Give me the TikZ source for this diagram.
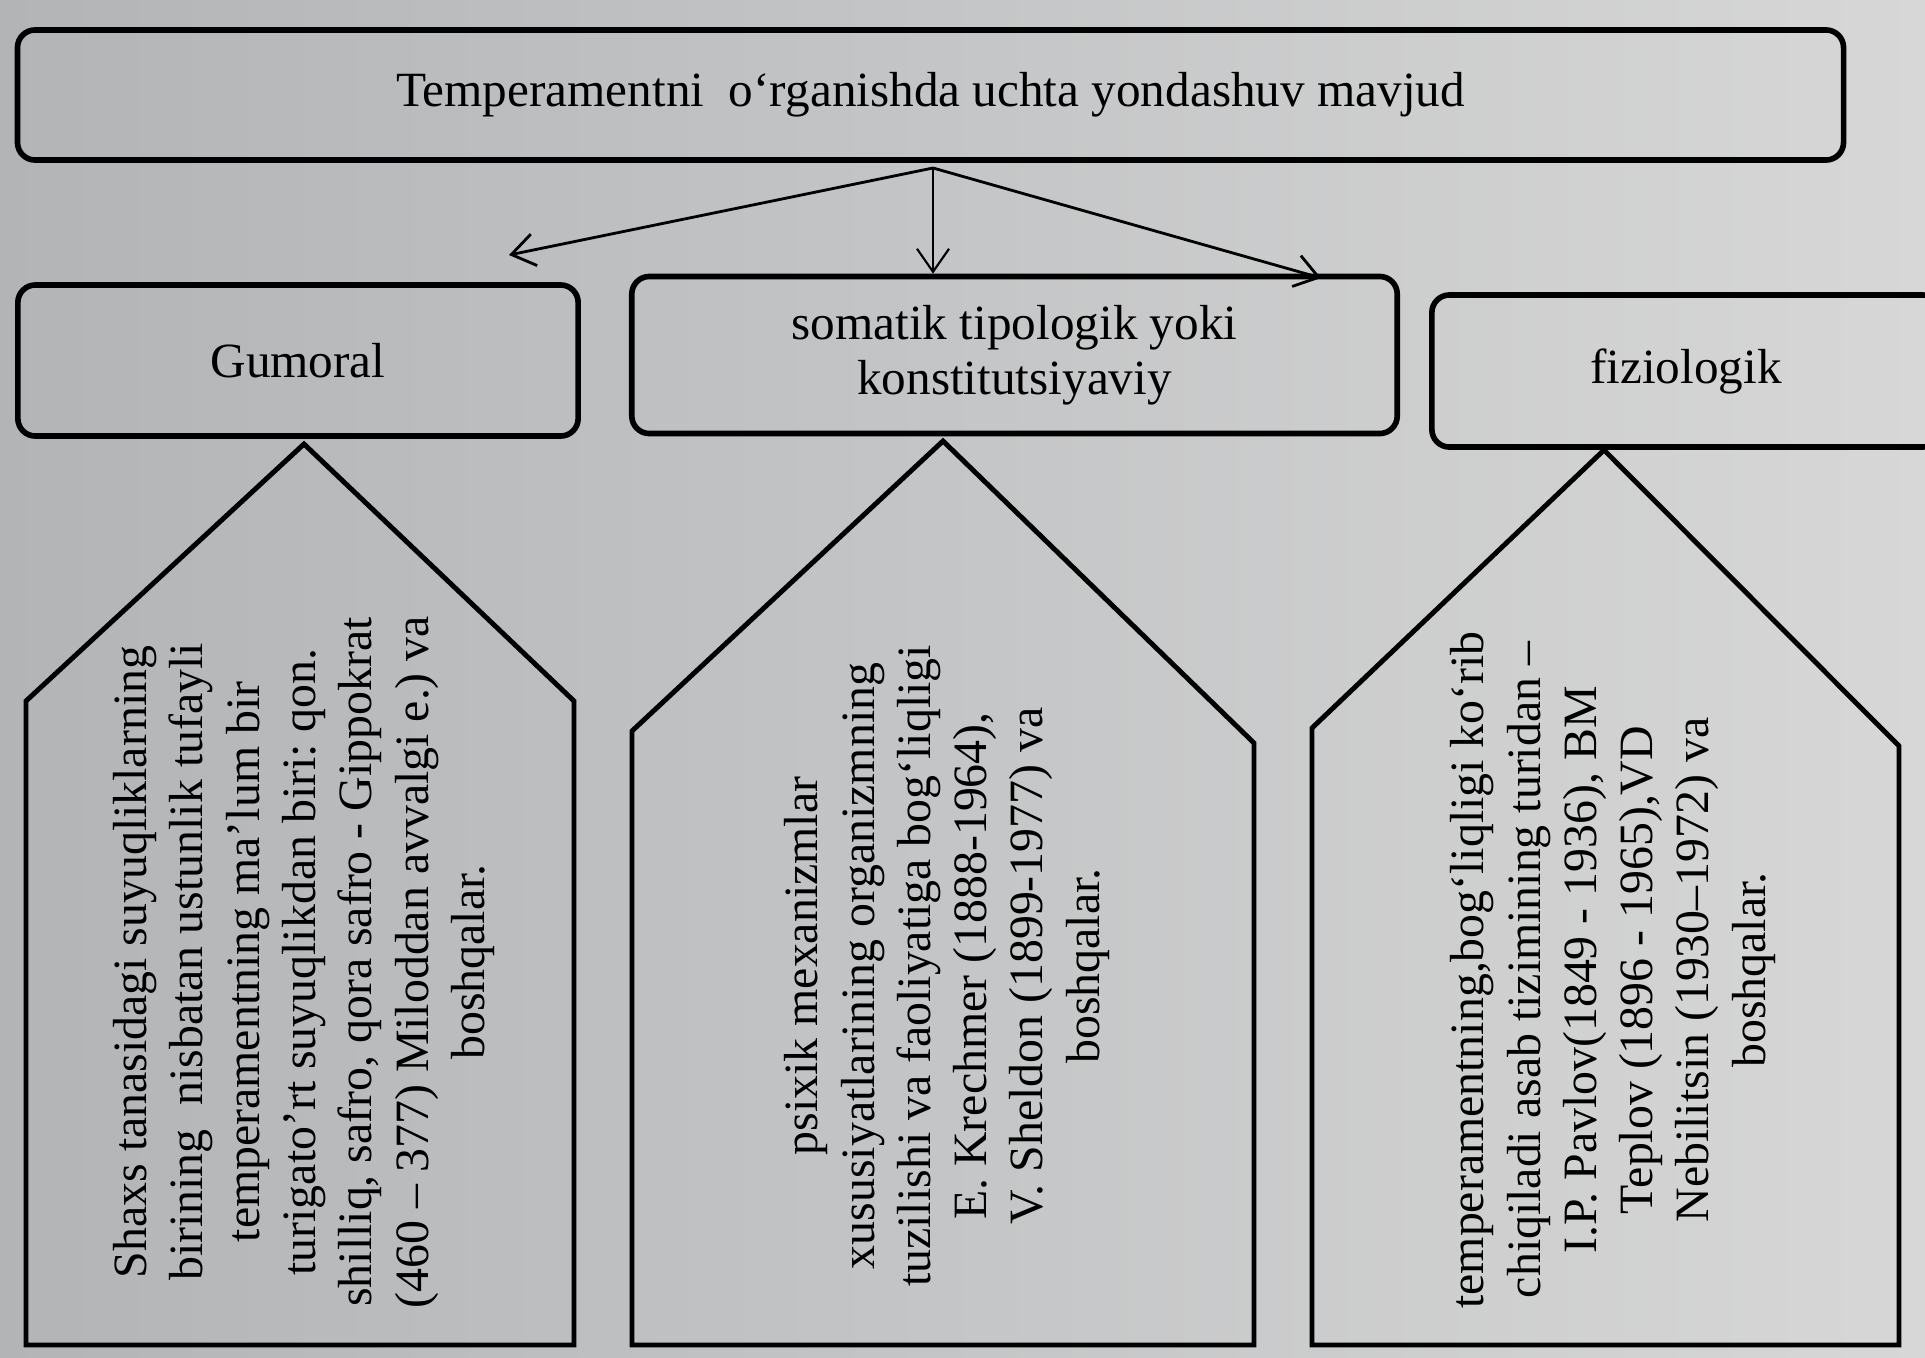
\documentclass[tikz,border=0pt]{standalone}
\usepackage{fontspec}
\setmainfont{Liberation Serif}
\usetikzlibrary{arrows.meta}
\frenchspacing

\definecolor{paperdark}{RGB}{178,180,182}
\definecolor{papermid}{RGB}{200,201,202}
\definecolor{paperlight}{RGB}{215,215,215}

\begin{document}
\begin{tikzpicture}[
  x=0.01cm, y=-0.01cm,
  hbox/.style={draw, line width=1.6pt, rounded corners=5pt, align=center, inner sep=0pt, font=\fontsize{14}{15.6}\selectfont},
  house/.style={draw, line width=1.4pt, line join=miter},
  vtext/.style={rotate=90, align=center, font=\fontsize{13.6}{16}\selectfont},
  arrow/.style={line width=0.8pt, -{Straight Barb[length=2.3mm,width=3.2mm]}}
]
  \useasboundingbox (0,0) rectangle (1925,1357);
  \clip (0,0) rectangle (1925,1357);
  \shade[left color=paperdark, middle color=papermid, right color=paperlight] (0,0) rectangle (1925,1357);

  % header and the three approaches
  \node (top) [hbox, minimum width=18.25cm, minimum height=1.3cm] at (930.5,95) {Temperamentni\ \ o‘rganishda uchta yondashuv mavjud};
  \node (gumoral) [hbox, minimum width=5.6cm, minimum height=1.51cm] at (298,360.5) {Gumoral};
  \node (somatik) [hbox, minimum width=7.65cm, minimum height=1.57cm] at (1014.5,355) {somatik tipologik yoki\\ konstitutsiyaviy};
  \node (fiziol) [hbox, minimum width=5.08cm, minimum height=1.52cm] at (1686,371) {fiziologik};

  \coordinate (fork) at (933,168);
  \coordinate (tipL) at (509,255);
  \coordinate (tipR) at (1321,278);
  \draw [arrow] (fork) -- (tipL);
  \draw [arrow, line width=0.6pt] (fork) -- (fork |- somatik.north);
  \draw [arrow] (fork) -- (tipR);

  % pentagons
  \draw [house] (26,1345) -- (26,701) -- (304,444) -- (574,701) -- (574,1345) -- cycle;
  \draw [house] (632,1345) -- (632,731) -- (943,441) -- (1254,743) -- (1254,1345) -- cycle;
  \draw [house] (1312,1345) -- (1312,728) -- (1604,450) -- (1899,746) -- (1899,1345) -- cycle;

  \node (gumtext) [vtext] at (304,962) {Shaxs tanasidagi suyuqliklarning\\ birining\ \ nisbatan ustunlik tufayli\\ temperamentning ma'lum bir\\ turigato’rt suyuqlikdan biri: qon.\\ shilliq, safro, qora safro - Gippokrat\\ (460 – 377) Miloddan avvalgi e.) va\\ boshqalar.};
  \node (somtext) [vtext] at (947,966) {psixik mexanizmlar\\ xususiyatlarining organizmning\\ tuzilishi va faoliyatiga bog‘liqligi\\ E. Krechmer (1888-1964),\\ V. Sheldon (1899-1977) va\\ boshqalar.};
  \node (fiztext) [vtext] at (1613,970) {temperamentning,bog‘liqligi ko‘rib\\ chiqiladi asab tizimining turidan –\\ I.P. Pavlov(1849 - 1936), BM\\ Teplov (1896 - 1965),VD\\ Nebilitsin (1930–1972) va\\ boshqalar.};
\end{tikzpicture}
\end{document}
